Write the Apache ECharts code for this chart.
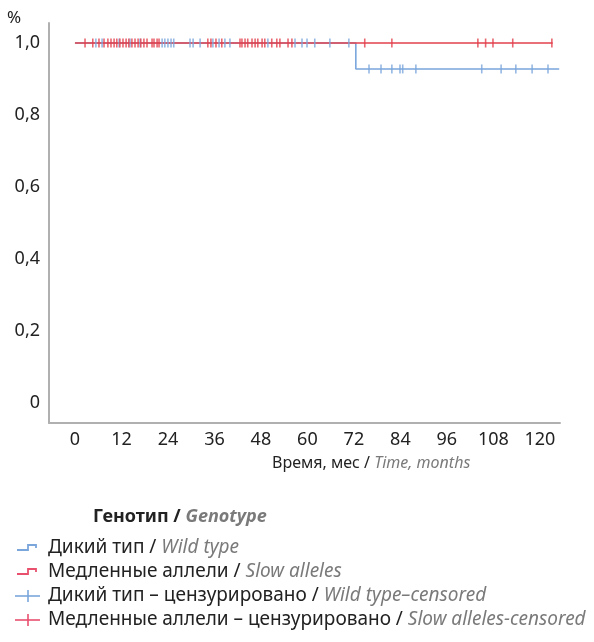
<!DOCTYPE html>
<html><head><meta charset="utf-8">
<script src="https://cdn.jsdelivr.net/npm/echarts@6/dist/echarts.min.js"></script>
<style>html,body{margin:0;padding:0;background:#fff}#c{width:594px;height:642px}</style>
</head><body><div id="c"></div>
<script>
// Data
const xTicks = [0, 12, 24, 36, 48, 60, 72, 84, 96, 108, 120];
const yTicks = [0, 0.2, 0.4, 0.6, 0.8, 1.0];
// Kaplan–Meier step curves: [month, survival]
const wildCurve = [[0, 1.0], [72.5, 0.928], [125, 0.928]];
const slowCurve = [[0, 1.0], [123.3, 1.0]];
// Censored observations (months)
const wildCensoredAt1 = [5.4, 7.0, 11.4, 14.2, 16.8, 22.5, 23.2, 24.0, 24.8, 25.5, 29.7, 30.5, 32.3, 35.6, 37.2, 38.7, 40.0, 49.8, 56.8, 58.6, 59.9, 61.9, 65.8, 70.7];
const wildCensoredLow = [75.9, 79.0, 81.8, 83.9, 84.6, 88.0, 105.0, 110.0, 113.8, 118.0, 122.1];
const wildLowValue = 0.928;
const slowCensored = [2.6, 4.6, 6.2, 7.5, 8.5, 9.3, 10.1, 10.8, 11.6, 12.4, 13.2, 13.9, 14.7, 15.5, 16.3, 17.0, 17.8, 18.6, 19.9, 20.4, 21.2, 21.7, 34.3, 35.1, 36.4, 37.9, 42.6, 43.1, 43.9, 44.6, 45.7, 46.5, 47.2, 48.3, 49.0, 50.8, 52.1, 52.9, 55.0, 56.0, 74.8, 81.8, 104.0, 106.0, 107.9, 113.0, 123.1];
const legendItems = [
  ['Дикий тип / ', 'Wild type'],
  ['Медленные аллели / ', 'Slow alleles'],
  ['Дикий тип – цензурировано / ', 'Wild type–censored'],
  ['Медленные аллели – цензурировано / ', 'Slow alleles-censored']
];

const BLUE = '#7aa6dc', RED = '#e2404c', RED2 = '#e8506e';
const FONT = '"Noto Sans", sans-serif';
const GREY = '#7a7a7a', INK = '#222';
const chart = echarts.init(document.getElementById('c'));

const graphics = [];
graphics.push({type:'text', left: 7, top: 10, style:{text:'%', font:'17px '+FONT, fill:INK}});
graphics.push({type:'text', left: 272, top: 455, style:{
  text:'{a|Время, мес / }{b|Time, months}',
  rich:{a:{fontSize:16,fontFamily:FONT,fill:INK}, b:{fontSize:16,fontFamily:FONT,fontStyle:'italic',fill:GREY}}
}});
graphics.push({type:'text', left: 93, top: 508, style:{
  text:'{a|Генотип / }{b|Genotype}',
  rich:{a:{fontSize:18,fontFamily:FONT,fontWeight:'bold',fill:INK}, b:{fontSize:18,fontFamily:FONT,fontWeight:'bold',fontStyle:'italic',fill:GREY}}
}});
legendItems.forEach((it, i) => {
  const y = 548 + i*24;
  const col = (i % 2 === 0) ? BLUE : RED2;
  if (i < 2) {
    graphics.push({type:'polyline', shape:{points:[[17,y+2],[28,y+2],[28,y-3],[36,y-3],[36,y]]}, style:{stroke:col, lineWidth:1.8, fill:null}});
  } else {
    graphics.push({type:'line', shape:{x1:15,y1:y,x2:40,y2:y}, style:{stroke:col, lineWidth:1.6}});
    graphics.push({type:'line', shape:{x1:28,y1:y-6,x2:28,y2:y+6}, style:{stroke:col, lineWidth:1.6}});
  }
  graphics.push({type:'text', left: 48, top: y-10, style:{
    text:'{a|'+it[0]+'}{b|'+it[1]+'}',
    rich:{a:{fontSize:19,fontFamily:FONT,fill:INK}, b:{fontSize:19,fontFamily:FONT,fontStyle:'italic',fill:GREY}}
  }});
});

const tick = {symbol:'rect', symbolSize:[1.6, 9]};
chart.setOption({
  animation:false,
  grid:{left:49, top:23, right:34, bottom:219},
  xAxis:{type:'value', min:-6.7, max:125.2,
    axisLine:{onZero:false, lineStyle:{color:'#b0b0b0', width:2}}, axisTick:{show:false}, splitLine:{show:false},
    axisLabel:{customValues:xTicks, margin:8, fontSize:18, fontFamily:FONT, color:INK}},
  yAxis:{type:'value', min:-0.0556, max:1.0556,
    axisLine:{show:true, onZero:false, lineStyle:{color:'#b0b0b0', width:2}}, axisTick:{show:false}, splitLine:{show:false},
    axisLabel:{customValues:yTicks, margin:9, fontSize:18, fontFamily:FONT, color:INK,
      formatter:v => v === 0 ? '0' : v.toFixed(1).replace('.', ',')}},
  series:[
    {type:'line', data:wildCurve, step:'end', symbol:'none', lineStyle:{color:BLUE, width:1.6}, z:2},
    {type:'line', data:slowCurve, step:'end', symbol:'none', lineStyle:{color:RED, width:1.6}, z:3},
    {type:'scatter', data:wildCensoredAt1.map(m=>[m,1.0]).concat(wildCensoredLow.map(m=>[m,wildLowValue])), ...tick, itemStyle:{color:BLUE}, z:4},
    {type:'scatter', data:slowCensored.map(m=>[m,1.0]), ...tick, itemStyle:{color:RED}, z:5}
  ],
  graphic:graphics
});
</script></body></html>
